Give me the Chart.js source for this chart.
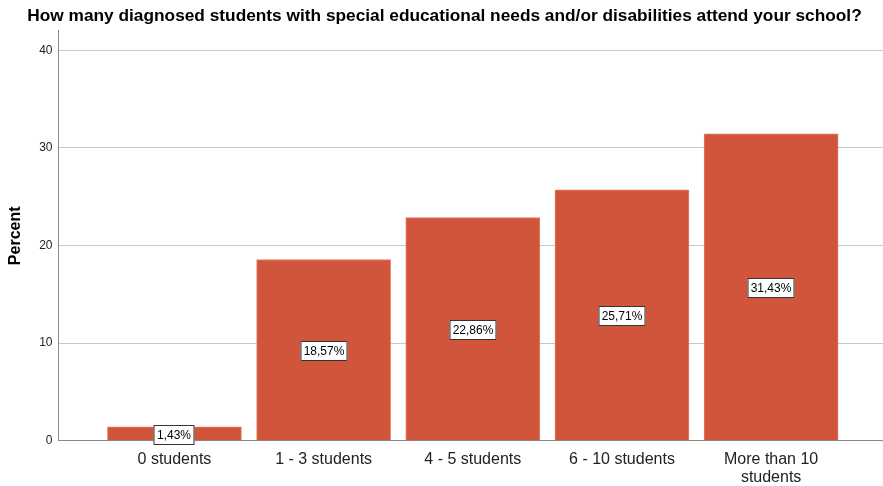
<!DOCTYPE html>
<html>
<head>
<meta charset="utf-8">
<script src="https://cdn.jsdelivr.net/npm/chart.js@4"></script>
<style>
  html, body { margin: 0; padding: 0; background: #fff; }
  #wrap { width: 883px; height: 486px; }
</style>
</head>
<body>
<div id="wrap"><canvas id="chart" width="883" height="486"></canvas></div>
<script>
// categories and values
const categories = [
    "0 students",
    "1 - 3 students",
    "4 - 5 students",
    "6 - 10 students",
    ["More than 10", "students"]
];
const percents = [1.43, 18.57, 22.86, 25.71, 31.43];
const yTicks = [0, 10, 20, 30, 40];

const barColor = "#D1553A";

// draw the boxed value label in the middle of each bar
const boxLabels = {
    id: "boxLabels",
    afterDatasetsDraw(chart) {
        const ctx = chart.ctx;
        const meta = chart.getDatasetMeta(0);
        ctx.save();
        ctx.font = "12px 'Liberation Sans', Arial, sans-serif";
        ctx.textAlign = "center";
        ctx.textBaseline = "middle";
        meta.data.forEach((bar, i) => {
            const text = percents[i].toFixed(2).replace(".", ",") + "%";
            const cx = Math.round(bar.x);
            const cy = Math.round((bar.y + bar.base) / 2) + 1;
            const w = Math.ceil(ctx.measureText(text).width) + 6;
            const h = 20;
            ctx.fillStyle = "#fff";
            ctx.fillRect(cx - w / 2, cy - h / 2, w, h);
            ctx.strokeStyle = "#333";
            ctx.lineWidth = 1;
            ctx.strokeRect(cx - w / 2 + 0.5, cy - h / 2 + 0.5, w - 1, h - 1);
            ctx.fillStyle = "#000";
            ctx.fillText(text, cx, cy + 1);
        });
        ctx.restore();
    }
};

const ctx = document.getElementById("chart").getContext("2d");
const chart = new Chart(ctx, {
    type: "bar",
    data: {
        datasets: [{
            data: percents.map((v, i) => ({ x: i, y: v })),
            backgroundColor: barColor,
            borderColor: "#E27A64",
            borderWidth: 1,
            barThickness: 134
        }]
    },
    options: {
        responsive: false,
        animation: false,
        layout: { padding: { left: 6, right: 0, top: 0, bottom: -10 } },
        plugins: {
            legend: { display: false },
            tooltip: { enabled: false },
            title: {
                display: true,
                text: "How many diagnosed students with special educational needs and/or disabilities attend your school?",
                color: "#000",
                font: { family: "'Liberation Sans', Arial, sans-serif", size: 17.3, weight: "bold" },
                padding: { top: 6, bottom: 4 }
            }
        },
        scales: {
            x: {
                type: "linear",
                min: -0.777,
                max: 4.75,
                offset: false,
                afterBuildTicks: (axis) => {
                    axis.ticks = categories.map((c, i) => ({ value: i }));
                },
                ticks: {
                    callback: (value) => categories[value],
                    color: "#222",
                    font: { family: "'Liberation Sans', Arial, sans-serif", size: 16, lineHeight: 1.1 },
                    maxRotation: 0,
                    autoSkip: false,
                    padding: 10
                },
                grid: { display: false, drawTicks: false },
                border: { display: true, color: "#8a8a8a", width: 1 }
            },
            y: {
                min: 0,
                max: 42,
                afterBuildTicks: (axis) => {
                    axis.ticks = yTicks.map(v => ({ value: v }));
                },
                ticks: {
                    color: "#222",
                    font: { family: "'Liberation Sans', Arial, sans-serif", size: 12 },
                    padding: 6
                },
                grid: { color: "#c8c8c8", drawTicks: false },
                border: { display: true, color: "#8a8a8a", width: 1 },
                title: {
                    display: true,
                    text: "Percent",
                    color: "#000",
                    font: { family: "'Liberation Sans', Arial, sans-serif", size: 16, weight: "bold" },
                    padding: { top: 0, bottom: 8 }
                }
            }
        }
    },
    plugins: [boxLabels]
});
</script>
</body>
</html>
